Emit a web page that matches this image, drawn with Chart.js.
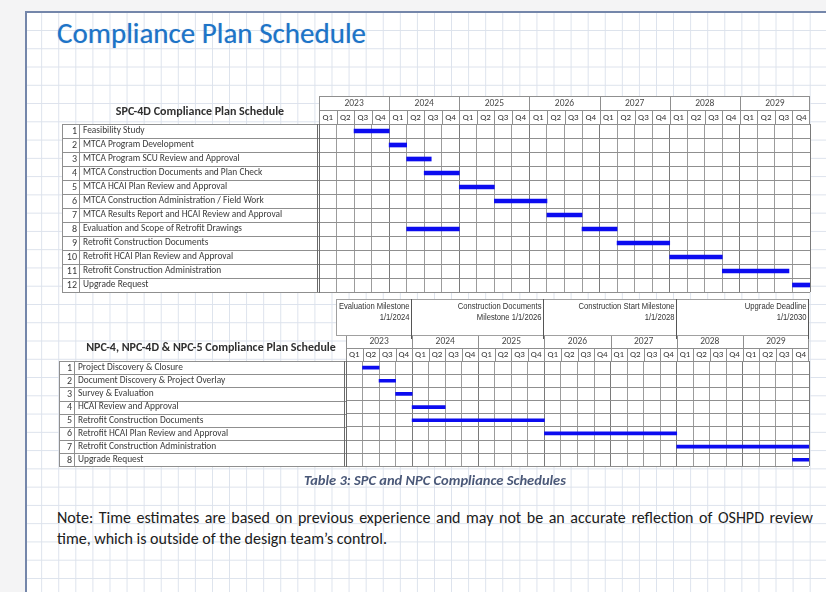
<!DOCTYPE html>
<html>
<head>
<meta charset="utf-8">
<title>Compliance Plan Schedule</title>
<script src="https://cdn.jsdelivr.net/npm/chart.js@4.4.1/dist/chart.umd.min.js"></script>
<style>
  html, body { margin: 0; padding: 0; }
  body {
    width: 826px; height: 592px; position: relative; overflow: hidden;
    background: #f4f4f5; font-family: Carlito, Lato, sans-serif;
  }
  #sheet {
    position: absolute; left: 25px; top: 11px; width: 801px; height: 581px;
    border-left: 2px solid #7486aa; border-top: 2px solid #7486aa;
    background-color: #fff;
    background-image:
      linear-gradient(to right, #dce2ec 1px, transparent 1px),
      linear-gradient(to bottom, #dce2ec 1px, transparent 1px);
    background-size: 17.08px 18.28px;
    background-position: 14.2px 17px;
  }
  #title {
    position: absolute; left: 57px; top: 15px; margin: 0;
    font-size: 29px; font-weight: normal; color: #1c74c8; white-space: nowrap;
    text-shadow: 0 0 1px rgba(40, 100, 180, 0.45);
  }
  canvas { position: absolute; left: 0; }
  #spc { top: 90px; }
  #npc { top: 296px; }
  #caption {
    position: absolute; left: 0; width: 870px; top: 471px; text-align: center;
    font-size: 14.5px; font-weight: bold; font-style: italic; color: #4a5878;
  }
  #note {
    position: absolute; left: 57px; top: 507px; width: 756px;
    font-size: 16px; line-height: 21px; color: #202020;
  }
  #note .l1 { text-align: justify; text-align-last: justify; white-space: nowrap; }
</style>
</head>
<body>
<div id="sheet"></div>
<h1 id="title">Compliance Plan Schedule</h1>
<canvas id="spc" width="826" height="210"></canvas>
<canvas id="npc" width="826" height="176"></canvas>
<div id="caption">Table 3: SPC and NPC Compliance Schedules</div>
<div id="note">
  <div class="l1">Note: Time estimates are based on previous experience and may not be an accurate reflection of OSHPD review</div>
  <div>time, which is outside of the design team’s control.</div>
</div>

<script>
// --- DATA ---
const years = [2023, 2024, 2025, 2026, 2027, 2028, 2029];
const quarters = ['Q1', 'Q2', 'Q3', 'Q4'];

const spcTasks = [
  'Feasibility Study',
  'MTCA Program Development',
  'MTCA Program SCU Review and Approval',
  'MTCA Construction Documents and Plan Check',
  'MTCA HCAI Plan Review and Approval',
  'MTCA Construction Administration / Field Work',
  'MTCA Results Report and HCAI Review and Approval',
  'Evaluation and Scope of Retrofit Drawings',
  'Retrofit Construction Documents',
  'Retrofit HCAI Plan Review and Approval',
  'Retrofit Construction Administration',
  'Upgrade Request'
];
const spcStart = [2023.5, 2024.0, 2024.25, 2024.5, 2025.0, 2025.5, 2026.25, 2024.25, 2027.25, 2028.0, 2028.75, 2029.75];
const spcEnd   = [2024.0, 2024.25, 2024.6, 2025.0, 2025.5, 2026.25, 2026.75, 2025.0, 2028.0, 2028.75, 2029.7, 2030.0];
// second bar on row 8
const spcStart2 = [null, null, null, null, null, null, null, 2026.75, null, null, null, null];
const spcEnd2   = [null, null, null, null, null, null, null, 2027.25, null, null, null, null];

const npcTasks = [
  'Project Discovery & Closure',
  'Document Discovery & Project Overlay',
  'Survey & Evaluation',
  'HCAI Review and Approval',
  'Retrofit Construction Documents',
  'Retrofit HCAI Plan Review and Approval',
  'Retrofit Construction Administration',
  'Upgrade Request'
];
const npcStart = [2023.25, 2023.5, 2023.75, 2024.0, 2024.0, 2026.0, 2028.0, 2029.75];
const npcEnd   = [2023.5, 2023.75, 2024.0, 2024.5, 2026.0, 2028.0, 2030.0, 2030.0];

const milestoneDates = [2024, 2026, 2028, 2030];
const milestoneLabels = [
  ['Evaluation Milestone', '1/1/2024'],
  ['Construction Documents', 'Milestone 1/1/2026'],
  ['Construction Start Milestone', '1/1/2028'],
  ['Upgrade Deadline', '1/1/2030']
];

const FONT = 'Carlito, Lato, sans-serif';
const BAR = '#0c0cf0';
const GRID = '#8f8f8f';

function seg(ctx, x0, y0, x1, y1) {
  ctx.beginPath(); ctx.moveTo(x0, y0); ctx.lineTo(x1, y1); ctx.stroke();
}

// --- TABLE PLUGIN: left columns, year/quarter header, milestones ---
const ganttTable = {
  id: 'ganttTable',
  beforeDraw(chart, args, o) {
    const { ctx, chartArea: a } = chart;
    ctx.save();
    ctx.fillStyle = '#ffffff';
    ctx.fillRect(o.tableLeft, a.top, a.right - o.tableLeft, a.bottom - a.top);
    ctx.fillRect(a.left, o.headTop, a.right - a.left, a.top - o.headTop);
    if (o.milestones) ctx.fillRect(o.msLeft, o.msTop, a.right - o.msLeft, o.headTop - o.msTop);
    ctx.restore();
  },
  afterDraw(chart, args, o) {
    const { ctx, chartArea: a, scales: { x, y } } = chart;
    const n = chart.data.labels.length;
    const rowH = y.getPixelForValue(1) - y.getPixelForValue(0);
    const top = y.getPixelForValue(0) - rowH / 2;
    ctx.save();
    ctx.strokeStyle = GRID;
    ctx.lineWidth = 1;

    // rows of the task table
    for (let i = 0; i <= n; i++) {
      const yy = Math.round(top + i * rowH) + 0.5;
      seg(ctx, o.tableLeft, yy, a.left, yy);
    }
    seg(ctx, o.tableLeft + 0.5, a.top, o.tableLeft + 0.5, a.bottom);
    seg(ctx, o.numRight + 0.5, a.top, o.numRight + 0.5, a.bottom);
    ctx.strokeStyle = '#6a6a6a';
    seg(ctx, a.left - 1.5, a.top, a.left - 1.5, a.bottom);

    // row numbers
    ctx.fillStyle = '#3a3a3a';
    ctx.font = '10px ' + FONT;
    ctx.textAlign = 'right';
    ctx.textBaseline = 'middle';
    for (let i = 0; i < n; i++) ctx.fillText(String(i + 1), o.numRight - 2, y.getPixelForValue(i) + 0.5);

    // table title
    ctx.font = 'bold 12px ' + FONT;
    ctx.fillStyle = '#303030';
    ctx.textAlign = 'center';
    ctx.fillText(o.title, o.titleX, o.titleY);

    // year / quarter header
    const yearB = o.headTop + o.yearH;
    ctx.strokeStyle = GRID;
    seg(ctx, a.left, o.headTop + 0.5, a.right, o.headTop + 0.5);
    seg(ctx, a.left, Math.round(yearB) + 0.5, a.right, Math.round(yearB) + 0.5);
    years.forEach(yr => {
      for (let q = 0; q < 4; q++) {
        const xx = Math.round(x.getPixelForValue(yr + q / 4)) + 0.5;
        seg(ctx, xx, q === 0 ? o.headTop : yearB, xx, a.top);
        const cx = (x.getPixelForValue(yr + q / 4) + x.getPixelForValue(yr + (q + 1) / 4)) / 2;
        ctx.font = '9px ' + FONT;
        ctx.fillStyle = '#333';
        ctx.fillText(quarters[q], cx, (yearB + a.top) / 2 + 0.5);
      }
      const cy = (x.getPixelForValue(yr) + x.getPixelForValue(yr + 1)) / 2;
      ctx.font = '9.5px ' + FONT;
      ctx.fillStyle = '#4a4a4a';
      ctx.fillText(String(yr), cy, o.headTop + o.yearH / 2 + 0.5);
    });
    const xr = Math.round(x.getPixelForValue(2030)) - 0.5;
    seg(ctx, xr, o.headTop, xr, a.top);

    // milestones
    if (o.milestones) {
      ctx.strokeStyle = '#a0a0a0';
      ctx.strokeRect(o.msLeft + 0.5, o.msTop + 0.5, a.right - o.msLeft - 1, o.headTop - o.msTop);
      ctx.strokeStyle = '#555';
      ctx.fillStyle = '#333';
      ctx.textAlign = 'right';
      ctx.font = '9px "Liberation Sans Narrow", "Liberation Sans", Arial, sans-serif';
      milestoneDates.forEach((d, i) => {
        const xx = Math.round(x.getPixelForValue(d)) - 0.5;
        seg(ctx, xx, o.msTop, xx, o.headTop + 4);
        milestoneLabels[i].forEach((t, k) => {
          ctx.save();
          ctx.translate(xx - 2, o.msTop + 8 + k * 11);
          ctx.scale(0.85, 1);
          ctx.fillText(t, 0, 0);
          ctx.restore();
        });
      });
    }
    ctx.restore();
  }
};

function ganttChart(id, tasks, sets, thickness, layout, table) {
  return new Chart(document.getElementById(id), {
    type: 'bar',
    data: {
      labels: tasks,
      datasets: sets.map(s => ({
        data: s[0].map((v, i) => v === null ? null : [v, s[1][i]]),
        backgroundColor: BAR,
        borderWidth: 0,
        borderSkipped: false,
        barThickness: thickness,
        grouped: false
      }))
    },
    options: {
      indexAxis: 'y',
      responsive: false,
      animation: false,
      layout: { padding: layout.padding },
      plugins: { legend: { display: false }, tooltip: { enabled: false }, ganttTable: table },
      scales: {
        x: {
          type: 'linear', min: 2023, max: 2030,
          ticks: { display: false, stepSize: 0.25 },
          grid: {
            drawTicks: false,
            color: c => (Math.abs(c.tick.value % 1) < 1e-6 ? '#7a7a7a' : '#9c9c9c')
          },
          border: { display: false },
          afterFit: s => { s.height = 0; }
        },
        y: {
          ticks: {
            crossAlign: 'far', padding: 0, color: '#3a3a3a', autoSkip: false,
            font: { family: FONT, size: 9.4 }
          },
          grid: { drawTicks: false, color: GRID, offset: true },
          border: { color: '#6a6a6a' },
          afterFit: s => { s.width = layout.axisWidth; }
        }
      }
    },
    plugins: [ganttTable]
  });
}

ganttChart('spc', spcTasks, [[spcStart, spcEnd], [spcStart2, spcEnd2]], 4,
  { padding: { top: 34, bottom: 8, left: 83, right: 16 }, axisWidth: 236 },
  { title: 'SPC-4D Compliance Plan Schedule', titleX: 200, titleY: 22,
    tableLeft: 62, numRight: 79, headTop: 6, yearH: 14 });

ganttChart('npc', npcTasks, [[npcStart, npcEnd]], 3,
  { padding: { top: 65, bottom: 4, left: 78, right: 17 }, axisWidth: 268 },
  { title: 'NPC-4, NPC-4D & NPC-5 Compliance Plan Schedule', titleX: 211, titleY: 52,
    tableLeft: 59, numRight: 74, headTop: 39, yearH: 13,
    milestones: true, msLeft: 336, msTop: 3 });
</script>
</body>
</html>
